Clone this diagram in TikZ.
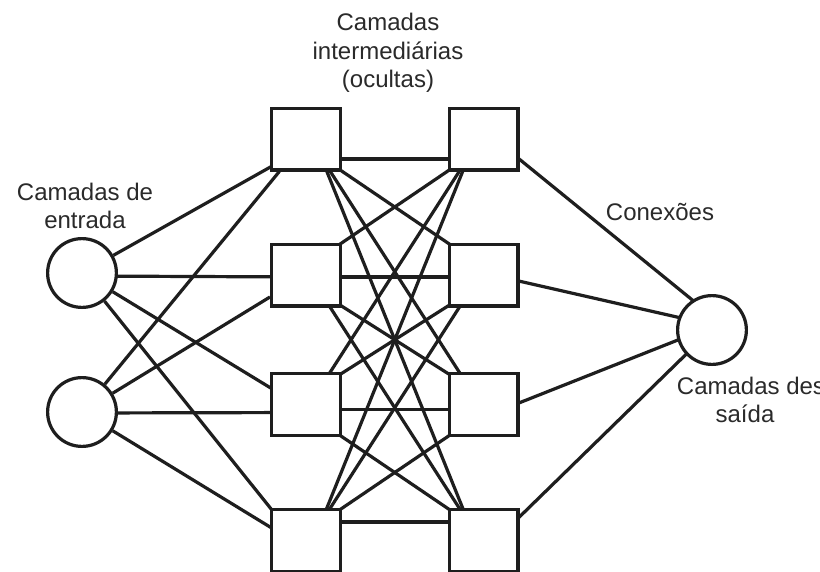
\documentclass[tikz,border=0pt]{standalone}
\usepackage{fontspec}
\setmainfont{Liberation Sans}
\usetikzlibrary{backgrounds,calc}
\definecolor{linec}{HTML}{1E1E1E}
\definecolor{textc}{HTML}{2A2A2A}
\begin{document}
\begin{tikzpicture}[x=1pt,y=-1pt,
  unit/.style={draw=linec, line width=3.2pt, fill=white, minimum width=68.8pt, minimum height=61.8pt, inner sep=0pt},
  neuron/.style={circle, draw=linec, line width=3.2pt, fill=white, minimum size=68.8pt, inner sep=0pt},
  conn/.style={draw=linec, line width=3.2pt},
  lbl/.style={text=textc, font=\fontsize{24}{28.5}\selectfont, align=center, inner sep=0pt}]
\useasboundingbox (0,0) rectangle (820,571);
% input neurons
\node[neuron] (I1) at (82,273) {};
\node[neuron] (I2) at (82,412) {};
% hidden layers
\node[unit] (L1) at (306,139) {};
\node[unit] (L2) at (306,275) {};
\node[unit] (L3) at (306,404.5) {};
\node[unit] (L4) at (306,540.5) {};
\node[unit] (R1) at (483.5,139) {};
\node[unit] (R2) at (483.5,275) {};
\node[unit] (R3) at (483.5,404.5) {};
\node[unit] (R4) at (483.5,540.5) {};
% output
\node[neuron] (O) at (712,330) {};
% labels
\node[lbl] (t1) at (388,53) {Camadas\\intermediárias\\(ocultas)};
\node[lbl] (t2) at (85,206) {Camadas de\\entrada};
\node[lbl] (t3) at (660,212) {Conexões};
\node[lbl] (t4) at (745,400) {Camadas de\rlap{s}\\saída};
\begin{pgfonlayer}{background}
\fill[white] (0,0) rectangle (820,571);
% input -> first hidden
\draw[conn] (I1) -- ($(L1)+(0,8)$);
\draw[conn] ($(I1)+(0,3)$) -- ($(L2)+(0,2)$);
\draw[conn] (I1) -- ($(L3)+(0,5)$);
\draw[conn] (I1) -- ($(L4)+(0,12)$);
\draw[conn] (I2) -- (L1);
\draw[conn] (I2) -- (L2);
\draw[conn] ($(I2)+(0,1)$) -- ($(L3)+(0,8)$);
\draw[conn] (I2) -- ($(L4)+(0,8.5)$);
% hidden -> hidden
\draw[conn] ($(L1)+(0,20)$) -- ($(R1)+(0,20)$);
\draw[conn] ($(L2)+(0,2)$) -- ($(R2)+(0,2)$);
\draw[conn] ($(L3)+(0,5)$) -- ($(R3)+(0,5)$);
\draw[conn] ($(L4)+(0,-18.5)$) -- ($(R4)+(0,-18.5)$);
\foreach \i/\j in {1/2,1/3,1/4,2/3,2/4,3/4}
  \draw[conn] ($(L\i)+(15,18)$) -- ($(R\j)+(-15,-18)$);
\foreach \i/\j in {2/1,3/1,3/2,4/1,4/2,4/3}
  \draw[conn] ($(L\i)+(15,-18)$) -- ($(R\j)+(-15,18)$);
% second hidden -> output
\draw[conn] ($(R1)+(0,-9)$) -- ($(O)+(0,-14)$);
\draw[conn] ($(R2)+(0,-2)$) -- ($(O)+(0,-5)$);
\draw[conn] ($(R3)+(0,12.5)$) -- ($(O)+(0,-3.5)$);
\draw[conn] ($(R4)+(0,11.5)$) -- ($(O)+(0,-1)$);
\end{pgfonlayer}
\end{tikzpicture}
\end{document}
